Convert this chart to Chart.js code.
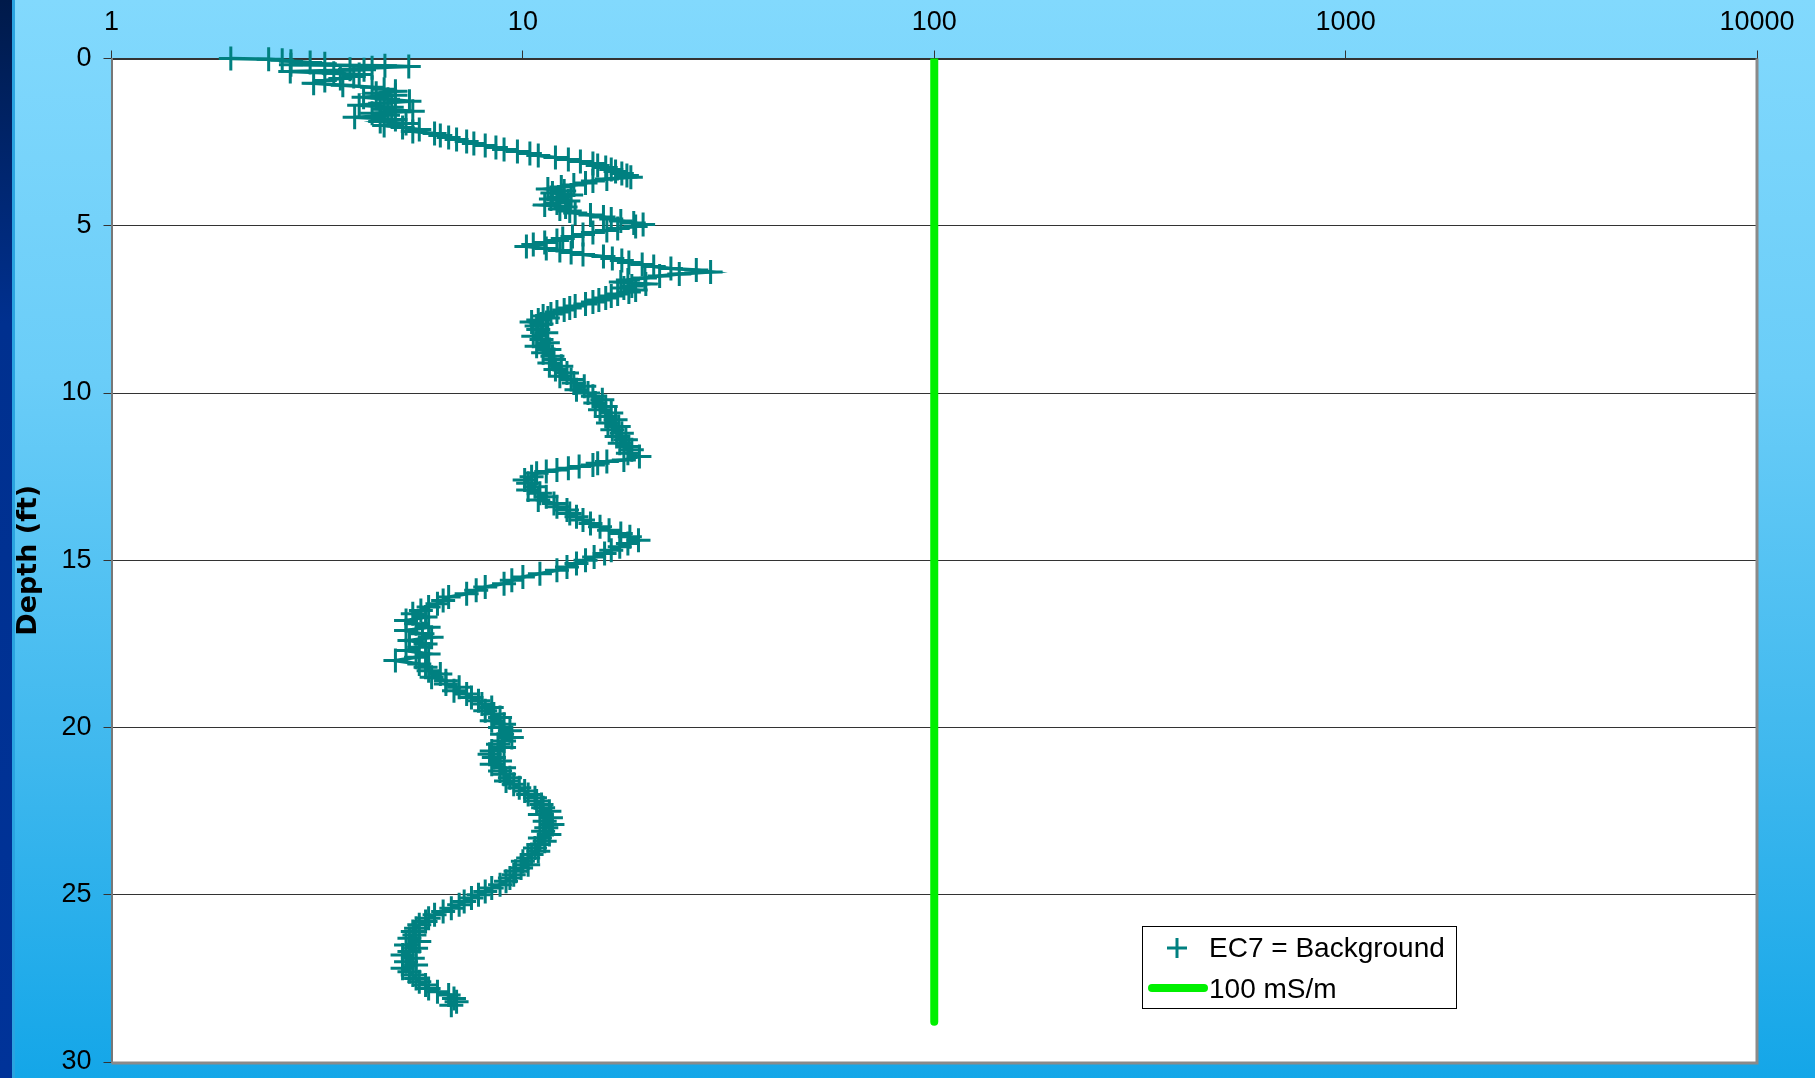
<!DOCTYPE html>
<html>
<head>
<meta charset="utf-8">
<title>EC7 depth profile</title>
<script src="https://cdn.jsdelivr.net/npm/chart.js@4.4.1/dist/chart.umd.min.js"></script>
<style>
  html, body { margin: 0; padding: 0; }
  body {
    width: 1815px; height: 1078px; overflow: hidden; position: relative;
    background: linear-gradient(to bottom, #82d9fd 0%, #6acdf8 35%, #3fb8ee 70%, #14a6e8 100%);
  }
  #strip { position: absolute; left: 0; top: 0; width: 12px; height: 1078px;
    background: linear-gradient(to bottom, #001a4a 0%, #00308f 30%, #003399 100%); }
  #strip2 { position: absolute; left: 12px; top: 0; width: 3px; height: 1078px; background: #2aa3e0; }
  #depthChart { position: absolute; left: 0; top: 0; }
</style>
</head>
<body>
<div id="strip"></div>
<div id="strip2"></div>
<canvas id="depthChart" width="1815" height="1078"></canvas>
<script>
const ctx = document.getElementById('depthChart').getContext('2d');

// depth of each EC7 reading (ft)
const depthFt = [
  0.00,0.02,0.05,0.08,0.12,0.16,0.19,0.22,0.24,0.28,0.32,0.34,0.39,0.44,0.48,0.54,0.60,0.66,0.74,0.80,0.86,0.92,0.98,
  1.04,1.10,1.16,1.22,1.28,1.34,1.40,1.46,1.52,1.58,1.64,1.70,1.76,1.82,1.88,1.94,2.00,
  2.06,2.12,2.18,2.24,2.30,2.36,2.42,2.48,2.54,2.60,2.66,2.72,2.78,2.84,2.90,2.96,
  3.02,3.08,3.14,3.20,3.26,3.32,3.38,3.44,3.50,3.55,
  3.60,3.66,3.72,3.78,3.84,3.90,3.96,4.02,4.08,4.14,4.20,4.26,4.32,4.38,4.44,4.50,
  4.56,4.62,4.68,4.74,4.80,4.86,4.92,4.96,
  5.02,5.08,5.14,5.20,5.26,5.32,5.38,5.44,5.50,5.56,5.62,
  5.68,5.74,5.80,5.86,5.92,5.98,6.04,6.10,6.16,6.22,6.28,6.32,6.38,
  6.44,6.50,6.56,6.62,6.68,6.74,6.80,6.86,6.92,6.98,7.04,7.10,7.16,7.22,7.28,7.34,7.40,7.46,7.52,7.58,7.64,7.70,7.76,7.82,7.88,7.94,8.00,
  8.1,8.2,8.3,8.4,8.5,8.6,8.7,8.8,8.9,9.0,9.1,9.2,9.3,9.4,9.5,9.6,9.7,9.8,9.9,10.0,10.1,10.2,
  10.3,10.4,10.5,10.6,10.7,10.8,10.9,11.0,11.1,11.2,11.3,11.4,11.5,11.6,11.7,11.8,11.9,
  12.0,12.05,12.1,12.15,12.2,12.25,12.3,12.35,12.4,12.5,12.6,12.7,
  12.8,12.9,13.0,13.1,13.2,13.3,13.4,13.5,13.6,13.7,13.8,13.9,14.0,14.1,14.2,14.3,14.4,
  14.5,14.6,14.7,14.8,14.9,15.0,15.1,15.2,15.3,15.4,15.5,15.6,15.7,15.8,15.9,16.0,16.1,16.2,16.3,16.4,16.5,
  16.6,16.7,16.8,16.9,17.0,17.1,17.2,17.3,17.4,17.5,17.6,17.7,17.8,17.9,18.0,
  18.1,18.2,18.3,18.4,18.5,18.6,18.7,18.8,18.9,19.0,19.1,19.2,19.3,19.4,19.5,19.6,19.7,19.8,19.9,20.0,20.1,20.2,20.3,20.4,
  20.5,20.6,20.7,20.8,20.9,21.0,21.1,21.2,21.3,
  21.4,21.5,21.6,21.7,21.8,21.9,22.0,22.1,22.2,22.3,22.4,22.5,22.6,22.7,22.8,22.9,23.0,
  23.1,23.2,23.3,23.4,23.5,23.6,23.7,23.8,23.9,24.0,24.1,24.2,24.3,24.4,24.5,24.6,24.7,24.8,24.9,25.0,25.1,25.2,25.3,25.4,25.5,25.6,25.7,25.8,25.9,26.0,26.1,26.2,
  26.3,26.4,26.5,26.6,26.7,26.8,26.9,27.0,27.1,27.2,27.3,27.4,27.5,27.6,27.7,27.8,27.9,28.0,28.1,28.2,28.3
];

// EC7 readings (mS/m), same order as depthFt
const ec7 = [
  1.95,2.41,2.60,2.73,3.04,3.30,2.73,4.62,5.28,4.30,3.80,4.11,2.72,3.47,4.00,3.88,3.60,3.30,3.10,3.65,4.30,4.60,4.90,
  4.4,4.9,4.1,4.7,5.3,4.5,4.0,4.8,4.6,5.4,4.3,4.7,3.9,4.9,4.5,5.2,4.6,
  5.1,5.6,5.4,6.1,6.3,6.6,6.9,7.3,7.6,8.1,8.6,9.0,9.7,10.4,10.9,12.0,
  12.9,13.8,14.8,15.2,15.9,16.4,16.8,17.4,17.9,18.3,
  16.0,14.8,14.2,13.3,12.4,11.5,12.6,11.8,13.1,12.2,11.7,12.9,12.1,11.3,12.7,12.3,
  13.0,13.4,14.6,15.7,16.4,17.3,18.6,19.6,
  18.8,17.0,16.0,14.8,14.0,13.2,12.5,12.1,11.3,10.6,10.2,
  11.4,12.3,13.1,14.0,15.7,16.5,17.4,18.1,19.5,20.8,22.9,26.4,28.6,
  24.0,21.5,19.8,18.0,17.3,19.9,18.4,17.6,18.8,18.1,17.0,16.4,15.9,15.3,14.8,14.2,13.4,13.0,12.6,12.1,11.7,11.2,11.5,10.9,10.5,11.1,10.8,
  10.9,11.4,10.6,11.1,11.5,10.8,11.6,11.2,11.8,11.9,11.6,12.4,12.0,12.8,12.3,13.1,13.3,14.1,13.5,14.4,14.8,15.6,
  15.0,15.9,15.4,16.4,15.9,16.8,16.1,17.1,16.5,17.4,16.9,17.8,17.2,18.1,18.4,18.0,19.2,
  17.6,16.0,15.2,14.8,13.7,12.9,12.1,11.4,10.8,10.5,10.1,10.3,
  10.7,10.3,11.0,11.4,10.9,11.9,12.1,12.8,13.0,13.5,14.0,14.6,15.4,16.2,17.3,18.2,19.1,
  18.0,17.2,16.4,15.8,14.9,14.2,13.5,12.8,12.1,11.0,10.0,9.4,9.0,8.1,7.7,7.3,6.6,6.4,6.2,5.9,5.65,
  5.4,5.8,5.2,5.5,5.9,5.2,5.7,6.0,5.3,5.8,5.6,5.2,5.9,5.5,4.9,
  5.6,5.8,5.9,6.3,6.0,6.5,6.5,7.0,6.8,7.3,7.5,7.8,7.95,8.4,8.1,8.5,8.8,8.4,9.0,8.8,9.3,8.9,9.4,9.0,
  8.7,9.0,8.4,8.3,8.5,8.8,8.4,9.0,8.8,
  9.0,9.3,9.1,9.5,9.8,10.1,10.3,10.7,10.8,11.1,11.2,11.6,11.0,11.7,11.3,11.8,11.4,
  11.2,11.6,11.0,11.3,10.9,10.7,10.9,10.5,10.3,10.0,10.3,9.9,9.6,9.5,9.3,9.1,8.8,8.4,8.1,7.8,7.5,7.2,7.0,6.7,6.4,6.1,5.9,5.8,5.6,5.5,5.4,5.45,
  5.3,5.6,5.2,5.5,5.3,5.1,5.4,5.2,5.5,5.1,5.3,5.4,5.5,5.6,5.8,5.9,6.2,6.6,6.8,6.9,6.7
];

// 100 mS/m reference line
const limitDepth = [0, 28.8];
const limitValue = [100, 100];

const xTickValues = [1, 10, 100, 1000, 10000];
const seriesLabels = ['EC7 = Background', '100 mS/m'];

const teal = '#008080';
const green = '#00f000';

const ecPoints = depthFt.map((d, i) => ({x: ec7[i], y: d}));
const limitPoints = limitDepth.map((d, i) => ({x: limitValue[i], y: d}));

Chart.defaults.font.family = '"Liberation Sans", Arial, sans-serif';
Chart.defaults.color = '#000';

// white plot area plus grey right/bottom frame
const plotFrame = {
  id: 'plotFrame',
  beforeDraw(chart) {
    const a = chart.chartArea;
    const c = chart.ctx;
    c.save();
    c.fillStyle = '#fff';
    c.fillRect(a.left, a.top, a.right - a.left, a.bottom - a.top);
    c.restore();
  },
  afterDraw(chart) {
    const a = chart.chartArea;
    const c = chart.ctx;
    c.save();
    c.strokeStyle = '#8a8a8a';
    c.lineWidth = 3;
    c.beginPath();
    c.moveTo(a.right, a.top);
    c.lineTo(a.right, a.bottom + 1.5);
    c.moveTo(a.left, a.bottom + 1);
    c.lineTo(a.right + 1.5, a.bottom + 1);
    c.stroke();
    c.restore();
  }
};

// boxed legend sitting inside the plot, bottom right
const boxLegend = {
  id: 'boxLegend',
  afterDraw(chart) {
    const c = chart.ctx;
    const left = 1142, top = 926, w = 314, h = 82;
    c.save();
    c.fillStyle = '#fff';
    c.fillRect(left, top, w, h);
    c.strokeStyle = '#000';
    c.lineWidth = 1;
    c.strokeRect(left + 0.5, top + 0.5, w, h);

    // cross marker
    c.strokeStyle = teal;
    c.lineWidth = 3;
    c.beginPath();
    c.moveTo(1167, 948); c.lineTo(1187, 948);
    c.moveTo(1177, 938); c.lineTo(1177, 958);
    c.stroke();

    // green line sample
    c.strokeStyle = green;
    c.lineWidth = 8;
    c.lineCap = 'round';
    c.beginPath();
    c.moveTo(1152, 988); c.lineTo(1204, 988);
    c.stroke();

    c.fillStyle = '#000';
    c.font = '28px "Liberation Sans", Arial, sans-serif';
    c.textBaseline = 'middle';
    c.fillText(chart.data.datasets[0].label, 1209, 949);
    c.fillText(chart.data.datasets[1].label, 1209, 990);
    c.restore();
  }
};

new Chart(ctx, {
  type: 'scatter',
  data: {
    datasets: [
      {
        label: seriesLabels[0],
        data: ecPoints,
        showLine: true,
        clip: false,
        borderColor: teal,
        backgroundColor: teal,
        borderWidth: 3.5,
        pointStyle: 'cross',
        pointRadius: 12,
        pointBorderWidth: 3,
        pointBorderColor: teal,
      },
      {
        label: seriesLabels[1],
        data: limitPoints,
        showLine: true,
        borderColor: green,
        backgroundColor: green,
        borderWidth: 8,
        borderCapStyle: 'round',
        pointRadius: 0,
      }
    ]
  },
  options: {
    responsive: false,
    animation: false,
    events: [],
    layout: { padding: { left: 0, top: 0, right: 58, bottom: 16 } },
    plugins: {
      legend: { display: false },
      tooltip: { enabled: false },
    },
    scales: {
      x: {
        type: 'logarithmic',
        position: 'top',
        min: 1,
        max: 10000,
        afterBuildTicks: (s) => { s.ticks = xTickValues.map(v => ({value: v})); },
        afterFit: (s) => { s.height = 58.5; s.paddingLeft = 0; s.paddingRight = 0; },
        ticks: {
          font: { size: 27 },
          padding: 12,
          maxRotation: 0,
          autoSkip: false,
          callback: (v) => String(v),
        },
        grid: { drawOnChartArea: false, color: '#333', tickLength: 8, lineWidth: 1 },
        border: { display: true, color: '#333', width: 2 },
      },
      y: {
        type: 'linear',
        reverse: true,
        min: 0,
        max: 30,
        afterFit: (s) => { s.width = 111.5; s.paddingTop = 0; s.paddingBottom = 0; },
        ticks: { stepSize: 5, font: { size: 27 }, padding: 12 },
        grid: { color: '#333', lineWidth: 1, tickLength: 8, tickColor: '#333' },
        border: { display: true, color: '#777', width: 2 },
        title: {
          display: true,
          text: 'Depth (ft)',
          font: { family: '"DejaVu Sans", Verdana, sans-serif', size: 27, weight: 'bold' },
          padding: { top: 13, bottom: 0 },
        },
      }
    }
  },
  plugins: [plotFrame, boxLegend]
});
</script>
</body>
</html>
